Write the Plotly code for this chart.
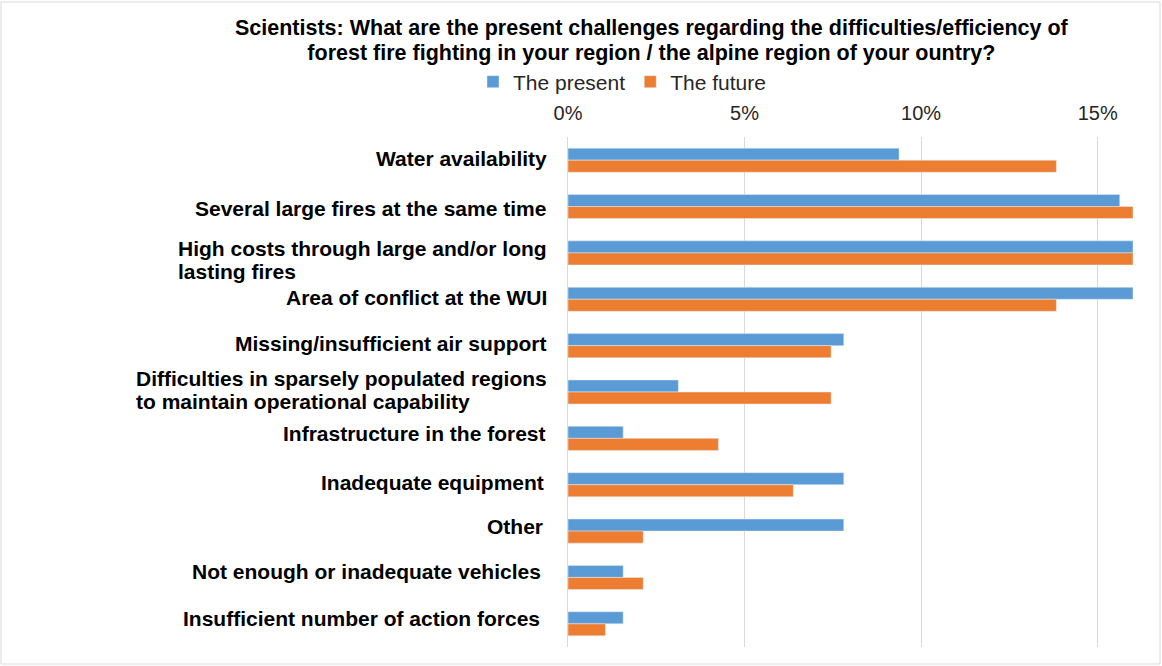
import plotly.graph_objects as go

# Challenge categories (top to bottom)
categories = [
    "Water availability",
    "Several large fires at the same time",
    "High costs through large and/or long<br>lasting fires",
    "Area of conflict at the WUI",
    "Missing/insufficient air support",
    "Difficulties in sparsely populated regions<br>to maintain operational capability",
    "Infrastructure in the forest",
    "Inadequate equipment",
    "Other",
    "Not enough or inadequate vehicles",
    "Insufficient number of action forces",
]

# Share of answers (%)
present = [9.375, 15.625, 16.0, 16.0, 7.81, 3.125, 1.5625, 7.81, 7.81, 1.5625, 1.5625]
future = [13.83, 16.0, 16.0, 13.83, 7.45, 7.45, 4.26, 6.38, 2.13, 2.13, 1.06]

x_ticks = [0, 5, 10, 15]
x_tick_text = ["0%", "5%", "10%", "15%"]

BLUE = "#5B9BD5"
ORANGE = "#ED7D31"
FONT = "Liberation Sans, Arial, sans-serif"

fig = go.Figure()
fig.add_trace(go.Bar(
    name="The present", y=categories, x=present, orientation="h",
    marker=dict(color=BLUE), hoverinfo="x+y",
))
fig.add_trace(go.Bar(
    name="The future", y=categories, x=future, orientation="h",
    marker=dict(color=ORANGE), hoverinfo="x+y",
))

W, H = 1162, 666
L, R, T, B = 568, 29, 137, 19
pw, ph = W - L - R, H - T - B


def px_to_paper_y(py):
    return (H - B - py) / ph


def tight(text, size):
    # larger glyphs inside a smaller base font keeps the line spacing compact
    return "<br>".join(
        '<span style="font-size:%spx">%s</span>' % (size, part) for part in text.split("<br>")
    )


# Per-label pixel nudges (right-edge shift, upward shift) for the category labels
label_nudge = {
    1: (-1, -4),
    2: (0, -9),
    6: (-1, 3),
    7: (-3, 0),
    8: (-4, 3),
    9: (-6, 4),
    10: (-7, 3),
}

# Left-aligned multi-line category labels placed beside the axis
annotations = []
for i, cat in enumerate(categories):
    dx, dy = label_nudge.get(i, (0, 0))
    annotations.append(dict(
        x=(549 - L) / pw, xref="paper", y=cat, yref="y",
        xshift=dx, yshift=2 + dy,
        text="<b>" + tight(cat, 21) + "</b>", showarrow=False,
        xanchor="right", yanchor="middle", align="left",
        font=dict(family=FONT, size=18, color="#000000"),
    ))

# Chart title
title_text = ("Scientists: What are the present challenges regarding the difficulties/efficiency of<br>"
              "forest fire fighting in your region / the alpine region of your ountry?")
annotations.append(dict(
    x=(652 - L) / pw, xref="paper", y=px_to_paper_y(40), yref="paper",
    text="<b>" + tight(title_text, 21.5) + "</b>",
    showarrow=False, xanchor="center", yanchor="middle", align="center",
    font=dict(family=FONT, size=19, color="#000000"),
))

# Light frame around the whole chart area
frame = dict(
    type="rect", xref="paper", yref="paper",
    x0=(1 - L) / pw, x1=(W - 2 - L) / pw,
    y0=-(B - 2) / ph, y1=(H - 2 - B) / ph,
    line=dict(color="#d9d9d9", width=1), layer="below",
)

fig.update_layout(
    width=W, height=H,
    margin=dict(l=L, r=R, t=T, b=B, autoexpand=False),
    paper_bgcolor="white", plot_bgcolor="white",
    barmode="group", bargap=0.48, bargroupgap=0,
    legend=dict(
        orientation="h", x=622 / W, xanchor="center", y=1 - 82 / H, yanchor="middle",
        xref="container", yref="container",
        font=dict(family=FONT, size=21, color="#262626"),
        itemwidth=30, traceorder="normal",
    ),
    xaxis=dict(
        side="top", range=[0, 16], tickvals=x_ticks, ticktext=x_tick_text,
        showgrid=True, gridcolor="#d9d9d9", gridwidth=1,
        zeroline=False, showline=False, ticks="", ticklabelstandoff=12,
        tickfont=dict(family=FONT, size=20, color="#262626"),
        automargin=False, fixedrange=True,
    ),
    yaxis=dict(
        autorange="reversed", showticklabels=False, showgrid=False,
        showline=True, linecolor="#d9d9d9", ticks="", automargin=False,
        fixedrange=True,
    ),
    annotations=annotations,
    shapes=[frame],
    showlegend=True,
)

fig.write_html("out.html")
